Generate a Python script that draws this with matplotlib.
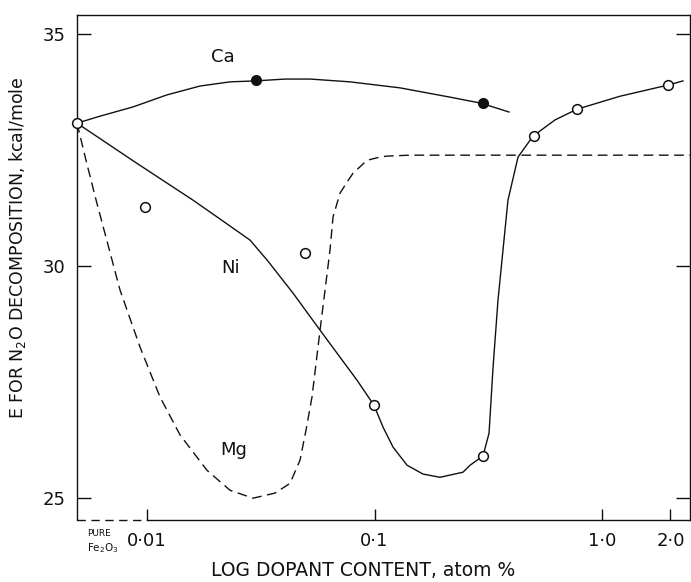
import matplotlib
matplotlib.use("Agg")
import matplotlib.pyplot as plt

plt.rcParams['font.family'] = ['DejaVu Sans']
plt.rcParams['mathtext.fontset'] = 'dejavusans'

# ---- data ----
pure_x = 0.00492          # position of "PURE Fe2O3" on the log axis
pure_e = 33.08

ca_pts_x = [0.030, 0.30]
ca_pts_y = [34.0, 33.51]
ca_curve_x = [0.00492, 0.00621, 0.00868, 0.01225, 0.0171, 0.0232, 0.0299, 0.0405,
              0.0521, 0.078, 0.1295, 0.2148, 0.294, 0.390]
ca_curve_y = [33.08, 33.23, 33.43, 33.69, 33.88, 33.97, 33.99, 34.03,
              34.03, 33.97, 33.84, 33.64, 33.51, 33.32]

ni_pts_x = [0.0098, 0.0495, 0.0995, 0.30, 0.50, 0.776, 1.95]
ni_pts_y = [31.27, 30.28, 27.00, 25.91, 32.80, 33.38, 33.90]
ni_curve_x = [0.00492, 0.00886, 0.01593, 0.0203, 0.02836, 0.0337, 0.0438, 0.0576,
              0.0838, 0.0995, 0.109, 0.1206, 0.139, 0.1633, 0.194, 0.2449, 0.263,
              0.2998, 0.3187, 0.3319, 0.349, 0.386, 0.4274, 0.4973, 0.6216, 0.7763,
              1.20, 1.95, 2.27]
ni_curve_y = [33.08, 32.24, 31.42, 31.06, 30.56, 30.13, 29.42, 28.62,
              27.54, 27.00, 26.53, 26.10, 25.71, 25.52, 25.45, 25.56, 25.71,
              25.91, 26.40, 27.82, 29.27, 31.42, 32.35, 32.80, 33.15, 33.38,
              33.66, 33.90, 33.99]

mg_curve_x = [0.00492, 0.00539, 0.00597, 0.00674, 0.00761, 0.00932, 0.0114, 0.01397,
              0.01835, 0.02317, 0.02923, 0.03652, 0.04251, 0.04704, 0.0500, 0.0531,
              0.0576, 0.0637, 0.0657, 0.0705, 0.0757, 0.0804, 0.0927, 0.1057,
              0.1135, 0.1432, 2.437]
mg_curve_y = [33.08, 32.28, 31.42, 30.45, 29.48, 28.25, 27.18, 26.36,
              25.60, 25.17, 25.00, 25.11, 25.32, 25.82, 26.47, 27.18,
              28.62, 30.34, 31.06, 31.57, 31.81, 32.00, 32.28, 32.35,
              32.37, 32.39, 32.39]

x_ticks = [0.01, 0.1, 1.0, 2.0]
x_ticklabels = ['0·01', '0·1', '1·0', '2·0']
y_ticks = [25, 30, 35]
y_ticklabels = ['25', '30', '35']

# ---- figure ----
W, H = 691, 582
fig = plt.figure(figsize=(W / 100, H / 100), dpi=100)
ax = fig.add_axes([77 / W, 1 - 520 / H, 613 / W, 505 / H])
ax.set_xscale('log')
ax.set_xlim(pure_x, 2.437)
ax.set_ylim(24.53, 35.41)

ink = '#111111'
lw = 1.0
ax.plot(ca_curve_x, ca_curve_y, color=ink, lw=lw, zorder=2)
ax.plot(ni_curve_x, ni_curve_y, color=ink, lw=lw, zorder=2)
ax.plot(mg_curve_x, mg_curve_y, color=ink, lw=lw, ls=(0, (7, 4)), zorder=2)

ax.plot(ca_pts_x, ca_pts_y, 'o', color=ink, ms=7, zorder=3)
ax.plot(ni_pts_x, ni_pts_y, 'o', mfc='white', mec=ink, mew=1.1, ms=7, zorder=3)
ax.plot([pure_x], [pure_e], 'o', mfc='white', mec=ink, mew=1.1, ms=7,
        zorder=4, clip_on=False)

# curve labels
ax.text(0.0216, 34.50, 'Ca', fontsize=13, color=ink, ha='center', va='center')
ax.text(0.0232, 29.96, 'Ni', fontsize=13, color=ink, ha='center', va='center')
ax.text(0.0241, 26.03, 'Mg', fontsize=13, color=ink, ha='center', va='center')

# spines: bottom broken (dashed up to 0.01)
for s in ['left', 'right', 'top']:
    ax.spines[s].set_color(ink)
    ax.spines[s].set_linewidth(1.0)
ax.spines['bottom'].set_visible(False)
xt = ax.get_xaxis_transform()
ax.plot([pure_x, 0.01], [0, 0], transform=xt, color=ink, lw=1.0,
        ls=(0, (6, 4)), clip_on=False)
ax.plot([0.01, 2.437], [0, 0], transform=xt, color=ink, lw=1.0, clip_on=False)

ax.set_xticks(x_ticks)
ax.set_xticklabels(x_ticklabels)
ax.xaxis.set_minor_locator(matplotlib.ticker.NullLocator())
ax.set_yticks(y_ticks)
ax.set_yticklabels(y_ticklabels)
ax.tick_params(axis='both', direction='in', length=8, width=1.0, color=ink,
               labelcolor=ink, labelsize=13)
ax.tick_params(axis='y', right=True, length=10, pad=8)
ax.tick_params(axis='x', pad=9)

# PURE Fe2O3
fig.text(87 / W, 1 - 534 / H, 'PURE', fontsize=6.5, color=ink, ha='left', va='center')
fig.text(87 / W, 1 - 548 / H, r'Fe$_2$O$_3$', fontsize=7.5, color=ink,
         ha='left', va='center')

fig.text(363 / W, 1 - 570 / H, 'LOG DOPANT CONTENT, atom %', fontsize=13.5,
         color=ink, ha='center', va='center')
fig.text(18 / W, 1 - 248 / H, r'E FOR N$_2$O DECOMPOSITION, kcal/mole',
         fontsize=12.5, color=ink, ha='center', va='center', rotation=90)

fig.savefig('out.png', dpi=100)
